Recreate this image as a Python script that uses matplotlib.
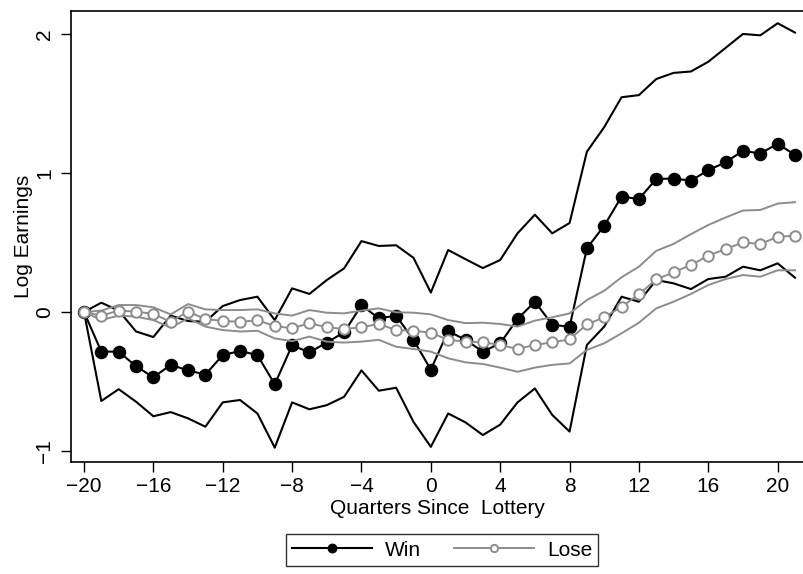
import numpy as np
import matplotlib.pyplot as plt

plt.rcParams['font.family'] = ['Liberation Sans', 'DejaVu Sans']

quarters = np.arange(-20, 22)

win = [0.0, -0.285, -0.285, -0.39, -0.47, -0.38, -0.42, -0.45, -0.31, -0.28,
       -0.31, -0.52, -0.24, -0.29, -0.22, -0.146, 0.048, -0.045, -0.027, -0.20,
       -0.415, -0.137, -0.20, -0.285, -0.225, -0.05, 0.074, -0.09, -0.108, 0.458,
       0.621, 0.83, 0.813, 0.957, 0.96, 0.945, 1.02, 1.077, 1.16, 1.14,
       1.21, 1.13]
win_hi = [0.0, 0.067, 0.01, -0.14, -0.18, -0.026, -0.065, -0.07, 0.043, 0.086,
          0.11, -0.058, 0.17, 0.13, 0.23, 0.314, 0.51, 0.475, 0.48, 0.39,
          0.14, 0.446, 0.38, 0.316, 0.374, 0.566, 0.70, 0.566, 0.64, 1.153,
          1.33, 1.545, 1.56, 1.676, 1.72, 1.73, 1.80, 1.90, 2.0, 1.99,
          2.077, 2.01]
win_lo = [0.0, -0.64, -0.555, -0.645, -0.75, -0.72, -0.765, -0.825, -0.65, -0.633,
          -0.73, -0.976, -0.65, -0.70, -0.67, -0.61, -0.42, -0.566, -0.545, -0.79,
          -0.97, -0.73, -0.794, -0.885, -0.81, -0.65, -0.55, -0.74, -0.86, -0.237,
          -0.105, 0.11, 0.074, 0.23, 0.206, 0.165, 0.237, 0.254, 0.326, 0.30,
          0.35, 0.247]

lose = [0.0, -0.026, 0.01, 0.003, -0.014, -0.07, 0.003, -0.05, -0.065, -0.07,
        -0.06, -0.10, -0.118, -0.08, -0.11, -0.122, -0.11, -0.086, -0.13, -0.134,
        -0.149, -0.20, -0.213, -0.218, -0.237, -0.266, -0.237, -0.218, -0.197, -0.089,
        -0.038, 0.038, 0.127, 0.235, 0.285, 0.338, 0.405, 0.453, 0.50, 0.49,
        0.54, 0.55]
lose_hi = [0.0, 0.01, 0.05, 0.05, 0.034, -0.017, 0.057, 0.019, 0.014, 0.014,
           0.019, -0.01, -0.026, 0.014, -0.005, -0.01, 0.01, 0.026, -0.002, -0.005,
           -0.017, -0.058, -0.08, -0.077, -0.086, -0.105, -0.062, -0.038, -0.01, 0.086,
           0.153, 0.25, 0.326, 0.44, 0.49, 0.56, 0.626, 0.68, 0.73, 0.734,
           0.78, 0.79]
lose_lo = [0.0, -0.058, -0.026, -0.033, -0.058, -0.113, -0.045, -0.105, -0.13, -0.14,
           -0.135, -0.19, -0.21, -0.177, -0.213, -0.22, -0.213, -0.20, -0.25, -0.266,
           -0.285, -0.333, -0.362, -0.374, -0.40, -0.43, -0.40, -0.38, -0.37, -0.273,
           -0.225, -0.153, -0.077, 0.026, 0.074, 0.13, 0.194, 0.237, 0.266, 0.254,
           0.30, 0.30]

grey = '#8c8c8c'
fs = 15

fig = plt.figure(figsize=(8.04, 5.74), dpi=100)
ax = fig.add_axes([0.0883, 0.1951, 0.9117, 0.7857])

# winners: mean with filled dots, bounds as plain black lines
ax.plot(quarters, win_hi, color='black', lw=1.5)
ax.plot(quarters, win_lo, color='black', lw=1.5)
ax.plot(quarters, win, color='black', lw=1.5, marker='o', ms=8.7,
        mfc='black', mec='black', label='Win')

# losers: grey, hollow circles
ax.plot(quarters, lose_hi, color=grey, lw=1.4)
ax.plot(quarters, lose_lo, color=grey, lw=1.4)
ax.plot(quarters, lose, color=grey, lw=1.4, marker='o', ms=7.5,
        mfc='white', mec=grey, mew=1.4, label='Lose')

ax.set_xlim(-20.75, 21.52)
ax.set_ylim(-1.079, 2.165)
ax.set_xticks(np.arange(-20, 21, 4))
ax.set_yticks([-1, 0, 1, 2])
ax.tick_params(direction='out', length=7, width=1, labelsize=fs, colors='black')
ax.tick_params(axis='x', pad=4)
ax.tick_params(axis='y', pad=5)
for lab in ax.get_yticklabels():
    lab.set_rotation(90)
    lab.set_va('center')

ax.spines['right'].set_visible(False)
for s in ['top', 'bottom', 'left']:
    ax.spines[s].set_linewidth(1.2)

ax.set_xlabel('Quarters Since  Lottery', fontsize=fs, labelpad=2)
ax.set_ylabel('Log Earnings', fontsize=fs, labelpad=2)

leg = fig.legend(loc='center', bbox_to_anchor=(442 / 804, 1 - 550 / 574), ncol=2,
                 frameon=True, fancybox=False, edgecolor='black', fontsize=fs,
                 handlelength=3.85, markerscale=0.7, columnspacing=1.6,
                 borderpad=0.3, handletextpad=0.6, borderaxespad=0)
leg.get_frame().set_linewidth(1.0)

fig.savefig('out.png', dpi=100)
